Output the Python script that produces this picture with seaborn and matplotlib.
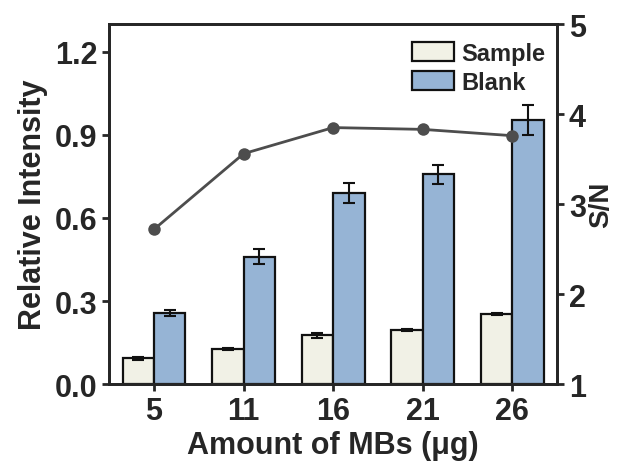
import matplotlib
matplotlib.use("Agg")
import matplotlib.pyplot as plt
import numpy as np
import pandas as pd
import seaborn as sns

amounts = ["5", "11", "16", "21", "26"]
sample = [0.093, 0.127, 0.177, 0.196, 0.252]
sample_err = [0.005, 0.005, 0.009, 0.004, 0.004]
blank = [0.257, 0.460, 0.690, 0.758, 0.955]
blank_err = [0.010, 0.028, 0.036, 0.034, 0.054]
sn = [2.72, 3.56, 3.85, 3.83, 3.76]

sns.set_style("ticks")
plt.rcParams["font.family"] = ["Liberation Sans", "DejaVu Sans"]
plt.rcParams["font.weight"] = "bold"
plt.rcParams["axes.linewidth"] = 2

df = pd.DataFrame({
    "amount": amounts * 2,
    "value": sample + blank,
    "err": sample_err + blank_err,
    "group": ["Sample"] * 5 + ["Blank"] * 5,
})

fig, ax = plt.subplots(figsize=(6.21, 4.64), dpi=100)
fig.subplots_adjust(left=0.176, right=0.897, top=0.946, bottom=0.17)

sns.barplot(data=df, x="amount", y="value", hue="group", hue_order=["Sample", "Blank"],
            palette={"Sample": "#f1f1e6", "Blank": "#96b4d5"}, saturation=1, width=0.7,
            errorbar=None, edgecolor="#111111", linewidth=1.6, ax=ax)

# error bars at bar centres, same order as the dataframe rows
bars = [p for p in ax.patches if p.get_height() > 0][:len(df)]
xs = [p.get_x() + p.get_width() / 2 for p in bars]
ax.errorbar(xs, df["value"], yerr=df["err"], fmt="none", ecolor="#111111",
            elinewidth=1.5, capsize=4, capthick=1.5, zorder=5)

ax.set_ylim(0, 1.3)
ax.set_xlim(-0.5, 4.5)
ax.set_yticks([0.0, 0.3, 0.6, 0.9, 1.2])
ax.set_yticklabels(["0.0", "0.3", "0.6", "0.9", "1.2"])
ax.set_xlabel("Amount of MBs (μg)", fontsize=22, fontweight="bold", labelpad=3)
ax.set_ylabel("Relative Intensity", fontsize=22, fontweight="bold", labelpad=5)
ax.tick_params(axis="both", labelsize=22, width=2, length=5, direction="out")

ax2 = ax.twinx()
sns.lineplot(x=np.arange(len(amounts)), y=sn, ax=ax2, color="#4d4d4d", linewidth=2,
             marker="o", markersize=9, markeredgewidth=0)
ax2.set_ylim(1, 5)
ax2.set_yticks([1, 2, 3, 4, 5])
ax2.set_ylabel("S/N", fontsize=20, fontweight="bold", labelpad=2)
ax2.tick_params(axis="y", labelsize=22, width=2, length=5, direction="out")
for side in ["top", "right", "left", "bottom"]:
    ax2.spines[side].set_linewidth(2)

handles, labels = ax.get_legend_handles_labels()
ax.legend_.remove()
leg = ax2.legend(handles, labels, loc="upper right", bbox_to_anchor=(1.005, 0.99),
                 frameon=False, fontsize=17, handlelength=1.8, handleheight=0.9,
                 handletextpad=0.3, labelspacing=0.25, borderaxespad=0.2)
for t in leg.get_texts():
    t.set_fontweight("bold")

fig.savefig("out.png", dpi=100)
